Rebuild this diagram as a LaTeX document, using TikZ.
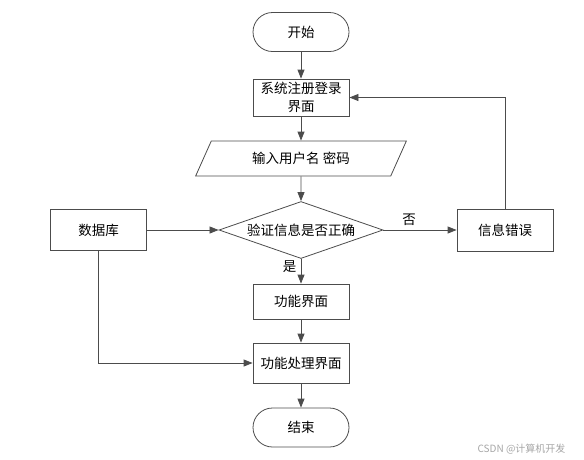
\documentclass[tikz,border=0pt]{standalone}
\usepackage{fontspec}
\setmainfont{Noto Sans CJK SC}
\usetikzlibrary{arrows.meta, shapes.geometric}

\tikzset{
  base/.style={draw=black!70, line width=0.8pt, font=\fontsize{13.5}{18.5}\selectfont, align=center, inner sep=2pt},
  box/.style={base, rectangle, minimum width=96pt, minimum height=37pt},
  term/.style={base, rectangle, rounded corners=19.5pt, minimum width=96pt, minimum height=39pt},
  iobox/.style={base, trapezium, trapezium left angle=62, trapezium right angle=118, trapezium stretches=true, minimum width=211pt, minimum height=35pt},
  decide/.style={base, diamond, aspect=2.9, inner sep=0pt, minimum width=164pt, minimum height=57pt},
  arrowline/.style={draw=black!70, line width=0.8pt, -{Triangle[length=9pt,width=7pt]}},
  lbl/.style={font=\fontsize{13.5}{15}\selectfont}
}

\begin{document}
\begin{tikzpicture}[x=1pt,y=-1pt]
\useasboundingbox (0,0) rectangle (584,459);
% Main column
\node[term] (start) at (301,32) {开始};
\node[box] (reg) at (301,97.5) {系统注册登录\\界面};
\node[iobox] (input) at (301,158.5) {输入用户名 密码};
\node[decide] (check) at (301,230) {验证信息是否正确};
\node[box, minimum height=35pt] (func) at (301,301.5) {功能界面};
\node[box, minimum height=40pt] (proc) at (301,363) {功能处理界面};
\node[term] (stop) at (301,427.5) {结束};
% Side boxes
\node[box, minimum height=41pt] (db) at (98.5,230) {数据库};
\node[box, minimum height=42pt] (err) at (505,230) {信息错误};
% Flow down the main column
\draw[arrowline] (start) -- (reg);
\draw[arrowline] (reg) -- (input);
\draw[arrowline] (input) -- (check);
\draw[arrowline] (check) -- node[lbl, pos=0.3, left, xshift=-1pt] {是} (func);
\draw[arrowline] (func) -- (proc);
\draw[arrowline] (proc) -- (stop);
% Wrong input goes back to login
\draw[arrowline] (check) -- node[lbl, pos=0.35, above, yshift=1pt] {否} (err);
\draw[arrowline] (err.north) |- (reg.east);
% Database feeds the check and the processing page
\draw[arrowline] (db) -- (check);
\draw[arrowline] (db.south) |- (proc.west);
% Watermark
\node[font=\fontsize{10}{12}\selectfont, text=black!35, anchor=east] (mark) at (569,449) {CSDN @计算机开发};
\end{tikzpicture}
\end{document}
